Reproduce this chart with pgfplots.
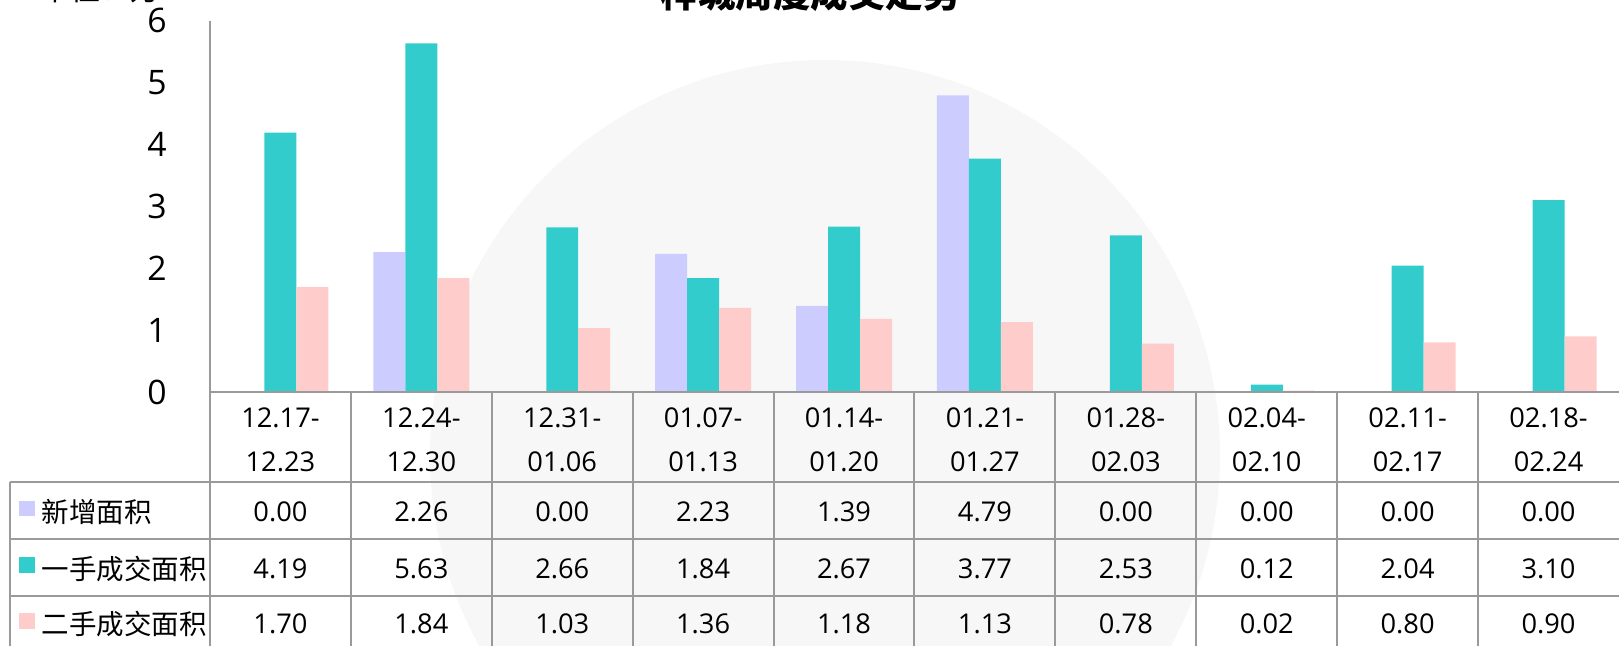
\documentclass[border=0pt]{standalone}
\usepackage{pgfplots}
\usepackage{pgfplotstable}
\pgfplotsset{compat=1.18}
\usepackage{fontspec}
\setmainfont{Open Sans}
\newfontfamily\cjk{Noto Sans CJK SC}
\definecolor{cnew}{HTML}{CCCCFF}
\definecolor{cfirst}{HTML}{33CCCC}
\definecolor{csecond}{HTML}{FFCCCC}
\definecolor{gridc}{HTML}{9A9A9A}
\definecolor{wm}{HTML}{F7F7F7}

\pgfplotstableread{
idx new first second
0 0.00 4.19 1.70
1 2.26 5.63 1.84
2 0.00 2.66 1.03
3 2.23 1.84 1.36
4 1.39 2.67 1.18
5 4.79 3.77 1.13
6 0.00 2.53 0.78
7 0.00 0.12 0.02
8 0.00 2.04 0.80
9 0.00 3.10 0.90
}\data

\begin{document}
\begin{tikzpicture}
\useasboundingbox (0,0) rectangle (647.6pt,258.4pt);
% watermark
\begin{scope}[shift={(0pt,258.4pt)}, x=0.4pt, y=-0.4pt]
\fill[wm] (825,455) circle (395);
\end{scope}

\begin{axis}[
  at={(84pt,101.6pt)}, anchor=south west,
  scale only axis, width=563.6pt, height=148.56pt,
  xmin=-0.5, xmax=9.5, ymin=0, ymax=6,
  axis line style={draw=none},
  major tick length=0pt,
  xtick=\empty,
  ytick={0,1,2,3,4,5,6},
  yticklabel style={anchor=center, xshift=-21.2pt, font=\fontsize{13.5}{16}\selectfont},
  /pgf/number format/assume math mode=true,
  ybar=0pt, bar width=0.227,
  clip=false,
]
\addplot[fill=cnew, draw=none, bar shift=-0.227] table[x=idx, y=new] {\data};
\addplot[fill=cfirst, draw=none, bar shift=0] table[x=idx, y=first] {\data};
\addplot[fill=csecond, draw=none, bar shift=0.227] table[x=idx, y=second] {\data};
\end{axis}

\begin{scope}[shift={(0pt,258.4pt)}, x=0.4pt, y=-0.4pt]
% lines
\draw[gridc, line width=0.8pt] (210,20.6) -- (210,660);
\draw[gridc, line width=0.9pt] (210,392) -- (1630,392);
\foreach \y in {482,539,596} \draw[gridc, line width=0.8pt] (10,\y) -- (1630,\y);
\draw[gridc, line width=0.8pt] (10,482) -- (10,660);
\foreach \k in {1,...,9} \draw[gridc, line width=0.8pt] ({210+140.9*\k},392) -- ({210+140.9*\k},660);
% category labels
\foreach \a/\b [count=\k from 0] in {12.17-/12.23,12.24-/12.30,12.31-/01.06,01.07-/01.13,01.14-/01.20,01.21-/01.27,01.28-/02.03,02.04-/02.10,02.11-/02.17,02.18-/02.24} {
  \node[font=\fontsize{10.9}{13}\selectfont] at ({210+140.9*(\k+0.5)},418) {\a};
  \node[font=\fontsize{10.9}{13}\selectfont] at ({210+140.9*(\k+0.5)},461.5) {\b};
}
% values
\foreach \i in {0,...,9} {
  \pgfplotstablegetelem{\i}{new}\of\data
  \node[font=\fontsize{10.9}{13}\selectfont] at ({210+140.9*(\i+0.5)},512) {\pgfplotsretval};
  \pgfplotstablegetelem{\i}{first}\of\data
  \node[font=\fontsize{10.9}{13}\selectfont] at ({210+140.9*(\i+0.5)},569) {\pgfplotsretval};
  \pgfplotstablegetelem{\i}{second}\of\data
  \node[font=\fontsize{10.9}{13}\selectfont] at ({210+140.9*(\i+0.5)},624) {\pgfplotsretval};
}
% legend
\fill[cnew] (18.6,501) rectangle (35,516);
\fill[cfirst] (18.6,557.5) rectangle (35,573);
\fill[csecond] (18.6,613) rectangle (35,629);
\node[anchor=west, inner sep=0pt, font=\cjk\fontsize{11}{13}\selectfont] at (41,512) {新增面积};
\node[anchor=west, inner sep=0pt, font=\cjk\fontsize{11}{13}\selectfont] at (41,569) {一手成交面积};
\node[anchor=west, inner sep=0pt, font=\cjk\fontsize{11}{13}\selectfont] at (41,624) {二手成交面积};
% title and unit (partly cut off at the top, as in the reference)
\node[anchor=base, inner sep=0pt, font=\cjk\bfseries\fontsize{15}{18}\selectfont] at (811,8) {梓城周度成交走势};
\node[anchor=base west, inner sep=0pt, font=\cjk\fontsize{12}{14}\selectfont] at (40,1) {单位：万㎡};
\end{scope}
\end{tikzpicture}
\end{document}
